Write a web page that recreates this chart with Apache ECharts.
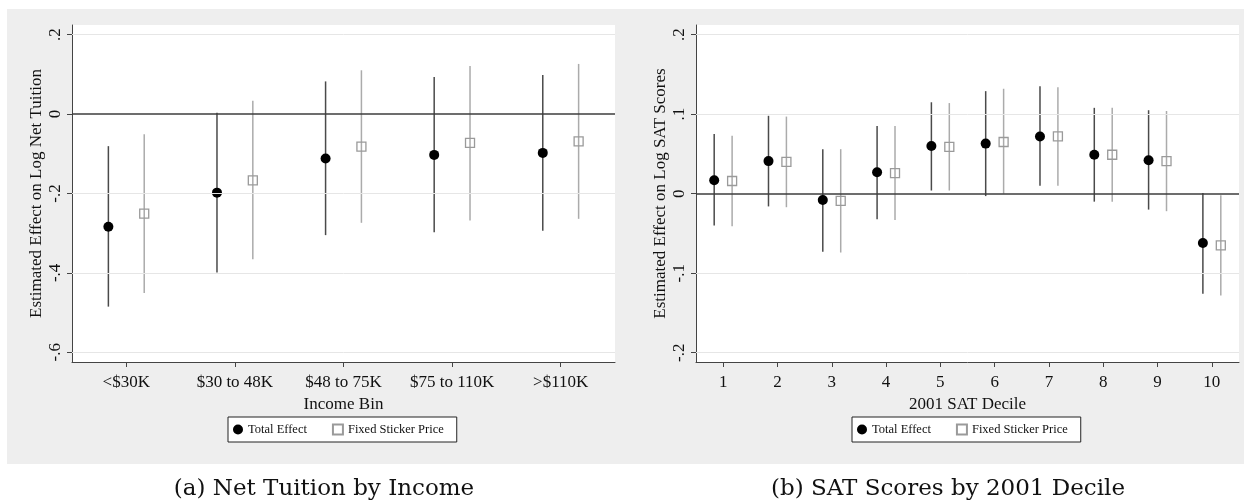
<!DOCTYPE html>
<html>
<head>
<meta charset="utf-8">
<script src="https://cdn.jsdelivr.net/npm/echarts@6/dist/echarts.min.js"></script>
<style>
  html, body { margin:0; padding:0; background:#ffffff; }
  #bg { position:absolute; left:7px; top:9px; width:1237px; height:455px; background:#eeeeee; }
  #chart { position:absolute; left:0; top:0; width:1244px; height:502px; }
</style>
</head>
<body>
<div id="bg"></div>
<div id="chart"></div>
<script>
// ---------- Data ----------
const incomeBins = ['<$30K', '$30 to 48K', '$48 to 75K', '$75 to 110K', '>$110K'];
const incomeTotal   = [-0.284, -0.198, -0.112, -0.103, -0.098];
const incomeTotalLo = [-0.485, -0.399, -0.305, -0.298, -0.294];
const incomeTotalHi = [-0.081,  0.003,  0.082,  0.093,  0.098];
const incomeFixed   = [-0.251, -0.167, -0.082, -0.073, -0.069];
const incomeFixedLo = [-0.451, -0.366, -0.274, -0.268, -0.264];
const incomeFixedHi = [-0.051,  0.033,  0.110,  0.121,  0.126];

const satDeciles = [1, 2, 3, 4, 5, 6, 7, 8, 9, 10];
const satTotal   = [0.017, 0.041, -0.008, 0.027, 0.060, 0.063, 0.072, 0.049, 0.042, -0.062];
const satTotalLo = [-0.040, -0.016, -0.073, -0.032, 0.004, -0.003, 0.010, -0.010, -0.020, -0.126];
const satTotalHi = [0.075, 0.098, 0.056, 0.085, 0.115, 0.129, 0.135, 0.108, 0.105, 0.001];
const satFixed   = [0.016, 0.040, -0.009, 0.026, 0.059, 0.065, 0.072, 0.049, 0.041, -0.065];
const satFixedLo = [-0.041, -0.017, -0.074, -0.033, 0.004, 0.000, 0.010, -0.010, -0.022, -0.128];
const satFixedHi = [0.073, 0.097, 0.056, 0.085, 0.114, 0.132, 0.134, 0.108, 0.104, -0.002];

const incomeYTicks = [-0.6, -0.4, -0.2, 0, 0.2];
const satYTicks = [-0.2, -0.1, 0, 0.1, 0.2];

const seriesNames = ['Total Effect', 'Fixed Sticker Price'];
const titles = ['(a) Net Tuition by Income', '(b) SAT Scores by 2001 Decile'];
const xNames = ['Income Bin', '2001 SAT Decile'];
const yNames = ['Estimated Effect on Log Net Tuition', 'Estimated Effect on Log SAT Scores'];

// ---------- Style ----------
const FONT = 'Liberation Serif';
const OFFSET = 0.165;
const BLACK_DOT = '#000000';
const BLACK_BAR = '#4a4a4a';
const GREY_SQ = '#9a9a9a';
const GREY_BAR = '#ababab';

function stataFmt(v) {
  if (Math.abs(v) < 1e-9) return '0';
  return String(+v.toFixed(3)).replace('0.', '.');
}

function pts(vals, shift) { return vals.map((v, i) => [i + 1 + shift, v]); }
function bars(lo, hi, shift) { return lo.map((l, i) => [i + 1 + shift, l, hi[i]]); }

function barSeries(data, color, idx) {
  return {
    type: 'custom', xAxisIndex: idx, yAxisIndex: idx, z: 3, silent: true,
    encode: { x: 0, y: [1, 2] },
    renderItem: function (params, api) {
      const a = api.coord([api.value(0), api.value(1)]);
      const b = api.coord([api.value(0), api.value(2)]);
      return { type: 'line', shape: { x1: a[0], y1: a[1], x2: b[0], y2: b[1] },
               style: { stroke: color, lineWidth: 1.5 } };
    },
    data: data
  };
}

function gridLineSeries(idx, ticks) {
  return {
    type: 'line', xAxisIndex: idx, yAxisIndex: idx, data: [], z: 1, silent: true,
    markLine: {
      silent: true, symbol: 'none', label: { show: false }, animation: false,
      data: ticks.filter(t => t !== 0).map(t => ({ yAxis: t, lineStyle: { color: '#e6e6e6', width: 1, type: 'solid' } }))
        .concat([{ yAxis: 0, lineStyle: { color: '#3c3c3c', width: 1.5, type: 'solid' } }])
    }
  };
}

function makeSeries(idx, tot, totLo, totHi, fix, fixLo, fixHi, ticks) {
  return [
    gridLineSeries(idx, ticks),
    barSeries(bars(totLo, totHi, -OFFSET), BLACK_BAR, idx),
    barSeries(bars(fixLo, fixHi, OFFSET), GREY_BAR, idx),
    { name: seriesNames[0], type: 'scatter', xAxisIndex: idx, yAxisIndex: idx, z: 4,
      symbol: 'circle', symbolSize: 10, itemStyle: { color: BLACK_DOT, opacity: 1 },
      data: pts(tot, -OFFSET) },
    { name: seriesNames[1], type: 'scatter', xAxisIndex: idx, yAxisIndex: idx, z: 4,
      symbol: 'rect', symbolSize: 9, itemStyle: { color: 'rgba(255,255,255,0)', borderColor: GREY_SQ, borderWidth: 1.3, opacity: 1 },
      data: pts(fix, OFFSET) }
  ];
}

const axisLineStyle = { color: '#444444', width: 1 };

function xAxisCfg(idx, n, labels) {
  const vals = labels.map((_, i) => i + 1);
  return {
    type: 'value', gridIndex: idx, min: 0.5, max: n + 0.5,
    name: xNames[idx], nameLocation: 'middle', nameGap: 28,
    nameTextStyle: { fontFamily: FONT, fontSize: 17, color: '#111' },
    axisLine: { show: true, onZero: false, lineStyle: axisLineStyle },
    axisTick: { show: true, length: 5, lineStyle: axisLineStyle, customValues: vals },
    axisLabel: { show: true, margin: 12, fontFamily: FONT, fontSize: 17, color: '#111',
                 customValues: vals, formatter: v => labels[Math.round(v) - 1] },
    splitLine: { show: false }
  };
}

function yAxisCfg(idx, min, max, ticks) {
  return {
    type: 'value', gridIndex: idx, min: min, max: max,
    name: yNames[idx], nameLocation: 'middle', nameGap: 27,
    nameTextStyle: { fontFamily: FONT, fontSize: 17, color: '#111' },
    axisLine: { show: true, onZero: false, lineStyle: axisLineStyle },
    axisTick: { show: true, length: 5, lineStyle: axisLineStyle, customValues: ticks },
    axisLabel: { show: true, margin: 8, rotate: 90, fontFamily: FONT, fontSize: 17, color: '#111',
                 customValues: ticks, formatter: v => stataFmt(v) },
    splitLine: { show: false }
  };
}

function legendCfg(left) {
  return {
    left: left, top: 417, orient: 'horizontal',
    backgroundColor: '#ffffff', borderColor: '#222222', borderWidth: 1,
    padding: [6, 13, 6, 5], itemGap: 25, itemWidth: 10, itemHeight: 10,
    textStyle: { fontFamily: FONT, fontSize: 12.5, color: '#111' },
    data: seriesNames, selectedMode: false
  };
}

const chart = echarts.init(document.getElementById('chart'), null, { renderer: 'canvas' });
chart.setOption({
  backgroundColor: 'transparent',
  animation: false,
  title: [
    { text: titles[0], left: 319, top: 473, textAlign: 'center',
      textStyle: { fontFamily: 'DejaVu Serif', fontWeight: 'normal', fontSize: 23, color: '#111' } },
    { text: titles[1], left: 943, top: 473, textAlign: 'center',
      textStyle: { fontFamily: 'DejaVu Serif', fontWeight: 'normal', fontSize: 23, color: '#111' } }
  ],
  legend: [legendCfg(228), legendCfg(852)],
  grid: [
    { left: 72, top: 25, width: 543, height: 337, show: true, backgroundColor: '#ffffff', borderWidth: 0 },
    { left: 696, top: 25, width: 543, height: 337, show: true, backgroundColor: '#ffffff', borderWidth: 0 }
  ],
  xAxis: [xAxisCfg(0, incomeBins.length, incomeBins), xAxisCfg(1, satDeciles.length, satDeciles.map(String))],
  yAxis: [yAxisCfg(0, -0.6244, 0.224, incomeYTicks), yAxisCfg(1, -0.2117, 0.2122, satYTicks)],
  series: [].concat(
    makeSeries(0, incomeTotal, incomeTotalLo, incomeTotalHi, incomeFixed, incomeFixedLo, incomeFixedHi, incomeYTicks),
    makeSeries(1, satTotal, satTotalLo, satTotalHi, satFixed, satFixedLo, satFixedHi, satYTicks)
  )
});
</script>
</body>
</html>
